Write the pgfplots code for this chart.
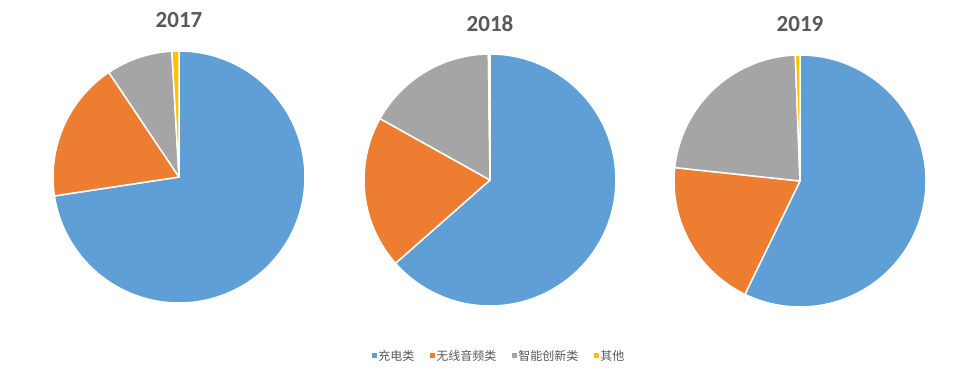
\documentclass[border=0pt]{standalone}
\usepackage{fontspec}
\setmainfont{Carlito}
\newfontfamily\cjk{Noto Sans CJK SC}
\usepackage{pgfplots}
\pgfplotsset{compat=1.18}
\definecolor{cblue}{HTML}{5F9FD6}
\definecolor{corange}{HTML}{ED7D31}
\definecolor{cgray}{HTML}{A5A5A5}
\definecolor{cyellow}{HTML}{FFC000}
\definecolor{ctext}{HTML}{595959}

% slices in percent, clockwise from 12 o'clock
\newcommand{\pie}[4]{%
  \pgfmathsetmacro\aA{90}%
  \pgfmathsetmacro\aB{90-3.6*#1}%
  \pgfmathsetmacro\aC{90-3.6*(#1+#2)}%
  \pgfmathsetmacro\aD{90-3.6*(#1+#2+#3)}%
  \pgfmathsetmacro\aE{90-3.6*(#1+#2+#3+#4)}%
  \edef\doslices{%
    \noexpand\addplot[slice, fill=cblue, domain=\aB:\aA] ({cos(x)},{sin(x)}) -- (axis cs:0,0) -- cycle;
    \noexpand\addplot[slice, fill=corange, domain=\aC:\aB] ({cos(x)},{sin(x)}) -- (axis cs:0,0) -- cycle;
    \noexpand\addplot[slice, fill=cgray, domain=\aD:\aC] ({cos(x)},{sin(x)}) -- (axis cs:0,0) -- cycle;
    \noexpand\addplot[slice, fill=cyellow, domain=\aE:\aD] ({cos(x)},{sin(x)}) -- (axis cs:0,0) -- cycle;
  }\doslices
}

\pgfplotsset{
  slice/.style={draw=white, line width=1.5pt, line join=round, samples=120, no markers},
  pieaxis/.style={
    width=252pt, height=252pt, scale only axis,
    xmin=-1, xmax=1, ymin=-1, ymax=1,
    hide axis, clip=false, anchor=center,
    title style={font=\bfseries\fontsize{23}{23}\selectfont, text=ctext,
      at={(0.5,1)}, anchor=base, yshift=#1},
  },
}

\begin{document}
\begin{tikzpicture}
\fill[white] (0,0) rectangle (968pt,383pt);

\begin{axis}[pieaxis=17.5pt, at={(179pt,206pt)}, title={2017}]
  \pie{72.6}{18.0}{8.5}{0.9}
\end{axis}

\begin{axis}[pieaxis=16.5pt, at={(490pt,203pt)}, title={2018},
  legend entries={{充电类},{无线音频类},{智能创新类},{其他}},
  legend style={draw=none, fill=none, at={(0.032,-0.198)}, anchor=west,
    legend columns=4, font=\cjk\fontsize{12}{14}\selectfont, text=ctext,
    /tikz/every even column/.append style={column sep=15pt},
    inner sep=0pt, nodes={inner sep=1pt}},
  legend image code/.code={\fill[#1, draw=none] (0pt,-2.5pt) rectangle (5pt,2.5pt);},
  ]
  \pie{63.5}{19.6}{16.7}{0.2}
\end{axis}

\begin{axis}[pieaxis=17.5pt, at={(800pt,202pt)}, title={2019}]
  \pie{57.2}{19.5}{22.7}{0.6}
\end{axis}
\end{tikzpicture}
\end{document}
